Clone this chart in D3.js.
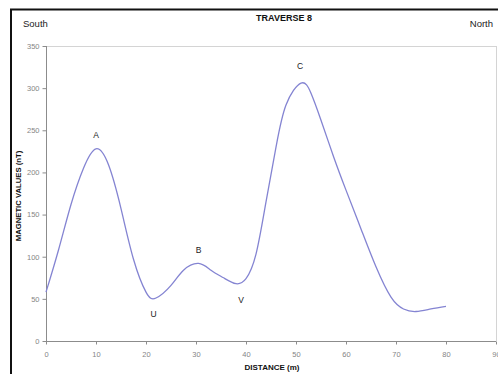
<!DOCTYPE html>
<html>
<head>
<meta charset="utf-8">
<script src="https://cdn.jsdelivr.net/npm/d3@7"></script>
<style>
  html, body { margin: 0; padding: 0; background: #fff; }
  svg { display: block; font-family: "Liberation Sans", Arial, sans-serif; }
</style>
</head>
<body>
<svg id="chart" width="498" height="374"></svg>
<script>
// Traverse 8 magnetic profile: distance along line (m) and magnetic value (nT)
const distance = [0, 2.5, 5, 7.5, 10, 12.5, 15, 17.5, 20, 22, 25, 27.5, 30.5, 33, 35.5, 38, 40, 42, 44, 46, 48, 51, 53, 55, 57.5, 60, 63, 66, 69, 71.5, 74, 77, 80];
const magnetic = [58, 108, 162, 205, 228, 209, 157, 97, 58, 51, 66, 84, 92, 84, 75, 68, 74, 103, 165, 230, 280, 306, 294, 262, 219, 179, 133, 88, 52, 38, 35, 38, 41];

// Anomaly labels (positioned in data units)
const anomalyNames = ["A", "B", "C", "U", "V"];
const anomalyX = [10, 30.5, 50.8, 21.5, 39];
const anomalyY = [244, 107, 325, 31, 48];

const xTicks = [0, 10, 20, 30, 40, 50, 60, 70, 80, 90];
const yTicks = [0, 50, 100, 150, 200, 250, 300, 350];

const svg = d3.select("#chart");
const plotLeft = 46, plotRight = 496, plotTop = 46, plotBottom = 341;

const x = d3.scaleLinear().domain([0, 90]).range([plotLeft, plotRight]);
const y = d3.scaleLinear().domain([0, 350]).range([plotBottom, plotTop]);

// outer chart frame
svg.append("rect")
  .attr("x", 11).attr("y", 9.5)
  .attr("width", 520).attr("height", 400)
  .attr("fill", "none").attr("stroke", "#111").attr("stroke-width", 2);

// plot area boundary (top and right)
svg.append("line").attr("x1", plotLeft).attr("x2", plotRight).attr("y1", plotTop + 0.5).attr("y2", plotTop + 0.5)
  .attr("stroke", "#d4d4d4").attr("stroke-width", 1);
svg.append("line").attr("x1", plotRight + 0.5).attr("x2", plotRight + 0.5).attr("y1", plotTop).attr("y2", plotBottom)
  .attr("stroke", "#d4d4d4").attr("stroke-width", 1);

// axes
const yAxis = d3.axisLeft(y).tickValues(yTicks).tickSize(4).tickPadding(3);
const xAxis = d3.axisBottom(x).tickValues(xTicks).tickSize(3).tickPadding(7);

const gy = svg.append("g").attr("transform", `translate(${plotLeft + 0.5},0)`).call(yAxis);
const gx = svg.append("g").attr("transform", `translate(0,${plotBottom + 0.5})`).call(xAxis);

[gx, gy].forEach(g => {
  g.selectAll(".domain").attr("stroke", "#8c8c8c");
  g.selectAll(".tick line").attr("stroke", "#8c8c8c");
  g.selectAll(".tick text").attr("fill", "#858585")
    .style("font-size", "7.5px").style("font-family", "Liberation Sans, Arial, sans-serif");
});
gx.select(".domain").attr("d", `M${plotLeft},0H${plotRight}`);
gy.select(".domain").attr("d", `M0,${plotTop}V${plotBottom}`);

// magnetic profile curve
const pts = distance.map((d, i) => [d, magnetic[i]]);
const line = d3.line()
  .x(d => x(d[0]))
  .y(d => y(d[1]))
  .curve(d3.curveNatural);

svg.append("path")
  .datum(pts)
  .attr("d", line)
  .attr("fill", "none")
  .attr("stroke", "#8484d2")
  .attr("stroke-width", 1.3);

// anomaly labels
svg.append("g").selectAll("text")
  .data(anomalyNames)
  .join("text")
  .attr("x", (d, i) => x(anomalyX[i]))
  .attr("y", (d, i) => y(anomalyY[i]))
  .attr("text-anchor", "middle")
  .attr("dominant-baseline", "middle")
  .attr("fill", "#222")
  .style("font-size", "8.5px")
  .text(d => d);

// titles
svg.append("text").attr("x", 284).attr("y", 21)
  .attr("text-anchor", "middle").attr("font-weight", "bold")
  .attr("fill", "#111").style("font-size", "9px").text("TRAVERSE 8");

svg.append("text").attr("x", 23).attr("y", 27)
  .attr("fill", "#222").style("font-size", "9.5px").text("South");
svg.append("text").attr("x", 493).attr("y", 27).attr("text-anchor", "end")
  .attr("fill", "#222").style("font-size", "9.5px").text("North");

svg.append("text").attr("x", 272).attr("y", 370)
  .attr("text-anchor", "middle").attr("font-weight", "bold")
  .attr("fill", "#111").style("font-size", "8px").text("DISTANCE (m)");

svg.append("text")
  .attr("transform", "translate(20.5,196) rotate(-90)")
  .attr("text-anchor", "middle").attr("font-weight", "bold")
  .attr("fill", "#111").style("font-size", "7.7px").text("MAGNETIC VALUES (nT)");
</script>
</body>
</html>
